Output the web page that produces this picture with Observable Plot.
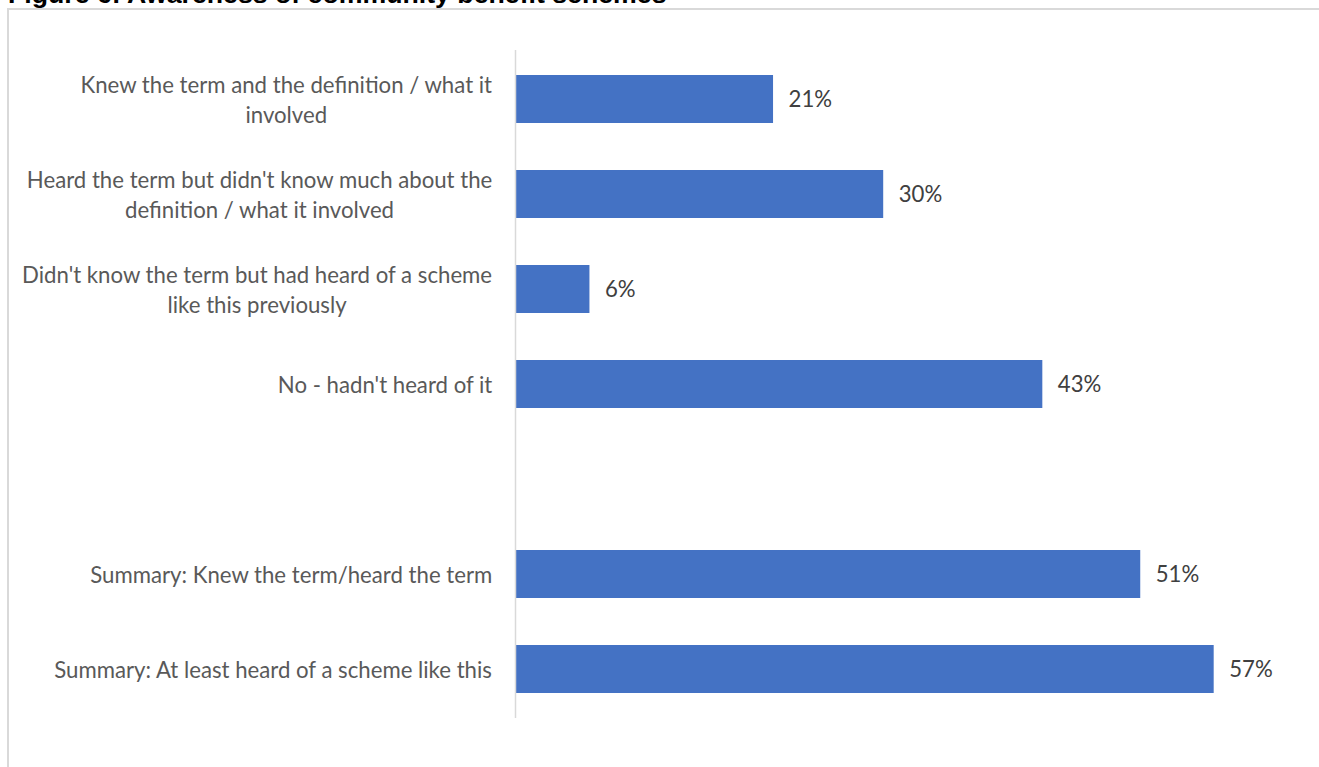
<!DOCTYPE html>
<html>
<head>
<meta charset="utf-8">
<script src="https://cdn.jsdelivr.net/npm/d3@7"></script>
<script src="https://cdn.jsdelivr.net/npm/@observablehq/plot@0.6"></script>
<style>
  html, body { margin: 0; padding: 0; background: #fff; overflow: hidden; }
  #wrap { position: relative; width: 1319px; height: 767px; overflow: hidden; }
  #frame { position: absolute; left: 7px; top: 8px; width: 1330px; height: 800px;
           border-left: 2px solid #d9d9d9; border-top: 2px solid #d9d9d9; box-sizing: border-box; }
  #title { position: absolute; left: 8px; top: -19.5px; font: bold 26.7px "Liberation Sans", Arial, sans-serif;
           line-height: 26.7px; color: #000; white-space: nowrap; }
  #chart { position: absolute; left: 0; top: 0; }
</style>
</head>
<body>
<div id="wrap">
  <div id="title">Figure 6: Awareness of community benefit schemes</div>
  <div id="frame"></div>
  <div id="chart"></div>
</div>
<script>
const categories = [
  "Knew the term and the definition / what it\ninvolved",
  "Heard the term but didn't know much about the\ndefinition / what it involved",
  "Didn't know the term but had heard of a scheme\nlike this previously",
  "No - hadn't heard of it",
  " ",
  "Summary: Knew the term/heard the term",
  "Summary: At least heard of a scheme like this"
];
const values = [21, 30, 6, 43, null, 51, 57];

const data = categories.map((c, i) => ({category: c, value: values[i]})).filter(d => d.value != null);

const fontFamily = "Lato, 'Open Sans', sans-serif";
const canvas = document.createElement("canvas");
const ctx = canvas.getContext("2d");
function textWidth(s, size) { ctx.font = `${size}px ${fontFamily}`; return ctx.measureText(s).width; }
// fit font so the longest first line matches the reference width
const fontSize = Math.round(413 / textWidth("Knew the term and the definition / what it", 100) * 100 * 10) / 10;

const marginLeft = 516;
const gap = 24;

const labelMarks = data.map(d => {
  const lines = d.category.split("\n");
  const w = Math.max(...lines.map(l => textWidth(l, fontSize)));
  return Plot.text([d], {
    y: "category", text: "category", frameAnchor: "left", textAnchor: "middle",
    lineAnchor: "middle", lineHeight: 30 / fontSize, dx: -gap - w / 2, dy: -1,
    fill: "#595959", fontSize, fontFamily
  });
});

const chart = Plot.plot({
  width: 1319,
  height: 767,
  marginLeft,
  marginRight: 1319 - marginLeft - 12.24 * 60,
  marginTop: 50,
  marginBottom: 49,
  x: {domain: [0, 60], axis: null},
  y: {domain: categories, axis: null, paddingInner: 0.5, paddingOuter: 0.25},
  style: {fontFamily, background: "transparent"},
  marks: [
    Plot.barX(data, {x: "value", y: "category", fill: "#4472C4"}),
    Plot.ruleX([0], {stroke: "#d9d9d9", strokeWidth: 1.5, dx: -1}),
    Plot.text(data, {x: "value", y: "category", text: d => `${d.value}%`, textAnchor: "start",
      dx: 15, fill: "#404040", fontSize, fontFamily}),
    ...labelMarks
  ]
});
document.getElementById("chart").appendChild(chart);
</script>
</body>
</html>
